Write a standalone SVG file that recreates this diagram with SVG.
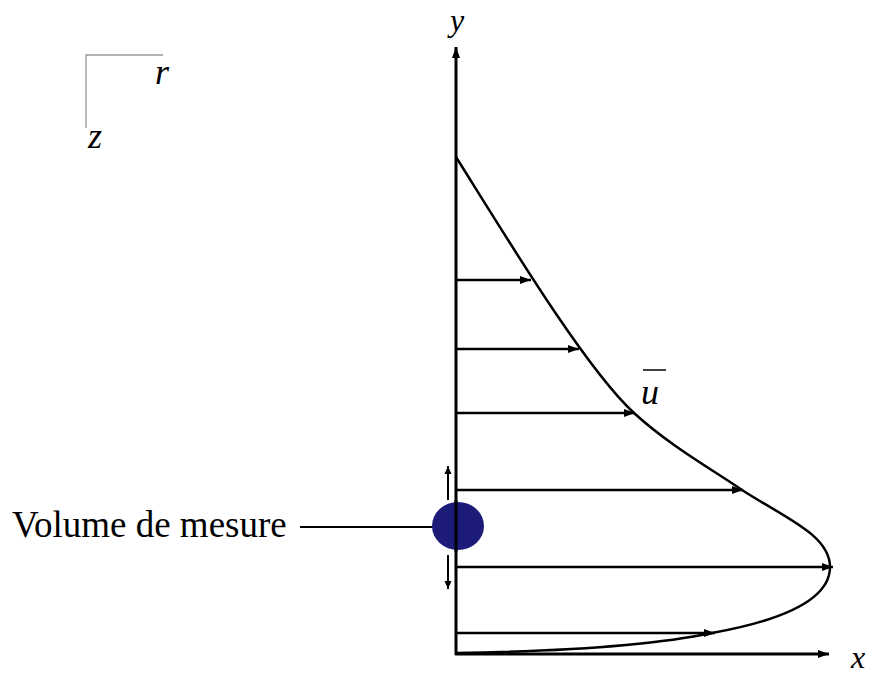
<svg xmlns="http://www.w3.org/2000/svg" width="872" height="677" viewBox="0 0 872 677">
<style>
.ln{stroke:#000;stroke-width:2.5;fill:none}
.ax{stroke:#000;stroke-width:3;fill:none}
.it{font-family:"Liberation Serif","Times New Roman",serif;font-style:italic;font-size:36px;fill:#000}
.ia{font-family:"Liberation Serif","Times New Roman",serif;font-style:italic;font-size:32px;fill:#000}
.lb{font-family:"Liberation Serif","Times New Roman",serif;font-size:37px;fill:#000}
</style>
<defs>
<marker id="ah" viewBox="0 0 11 8" refX="11" refY="4" markerWidth="11" markerHeight="8" markerUnits="userSpaceOnUse" orient="auto">
<path d="M0,0 L11,4 L0,8 z" fill="#000"/>
</marker>
<marker id="ahs" viewBox="0 0 8 8" refX="8" refY="4" markerWidth="8" markerHeight="8" markerUnits="userSpaceOnUse" orient="auto">
<path d="M0,0.5 L8,4 L0,7.5 z" fill="#000"/>
</marker>
</defs>
<g id="frame-rz">
<path d="M86,128 V55 H163" stroke="#999" stroke-width="1.3" fill="none"/>
<text class="it" x="155" y="84">r</text>
<text class="it" x="88" y="148">z</text>
</g>
<g id="connectors">
<line class="ax" x1="456" y1="655" x2="456" y2="47" marker-end="url(#ah)"/>
<line class="ax" x1="455" y1="654" x2="829" y2="654" marker-end="url(#ah)"/>
<path class="ln" d="M456,157 C505,235 585,368 634,413 C670,446 713,470 742,490 C785,518 830,535 830,567 C830,595 795,618 712,633 C640,648 520,652 456,653"/>
<line class="ln" x1="456" y1="280" x2="531" y2="280" marker-end="url(#ah)"/>
<line class="ln" x1="456" y1="349" x2="579" y2="349" marker-end="url(#ah)"/>
<line class="ln" x1="456" y1="413" x2="635" y2="413" marker-end="url(#ah)"/>
<line class="ln" x1="456" y1="490" x2="743" y2="490" marker-end="url(#ah)"/>
<line class="ln" x1="456" y1="567" x2="833" y2="567" marker-end="url(#ah)"/>
<line class="ln" x1="456" y1="633" x2="715" y2="633" marker-end="url(#ah)"/>
<line x1="300" y1="527" x2="434" y2="527" stroke="#000" stroke-width="2"/>
<line x1="448" y1="500" x2="448" y2="466" stroke="#000" stroke-width="2" marker-end="url(#ahs)"/>
<line x1="448" y1="555" x2="448" y2="589" stroke="#000" stroke-width="2" marker-end="url(#ahs)"/>
</g>
<g id="volume">
<ellipse cx="458" cy="526" rx="26" ry="24" fill="#1c1c78"/>
<line x1="456" y1="500" x2="456" y2="552" stroke="#000" stroke-width="3"/>
</g>
<g id="labels">
<text class="ia" x="450" y="31">y</text>
<text class="ia" x="851" y="668">x</text>
<text class="it" x="641" y="404">u</text>
<line x1="643" y1="370" x2="666" y2="370" stroke="#000" stroke-width="1.5"/>
<text class="lb" x="12" y="537">Volume de mesure</text>
</g>
</svg>
